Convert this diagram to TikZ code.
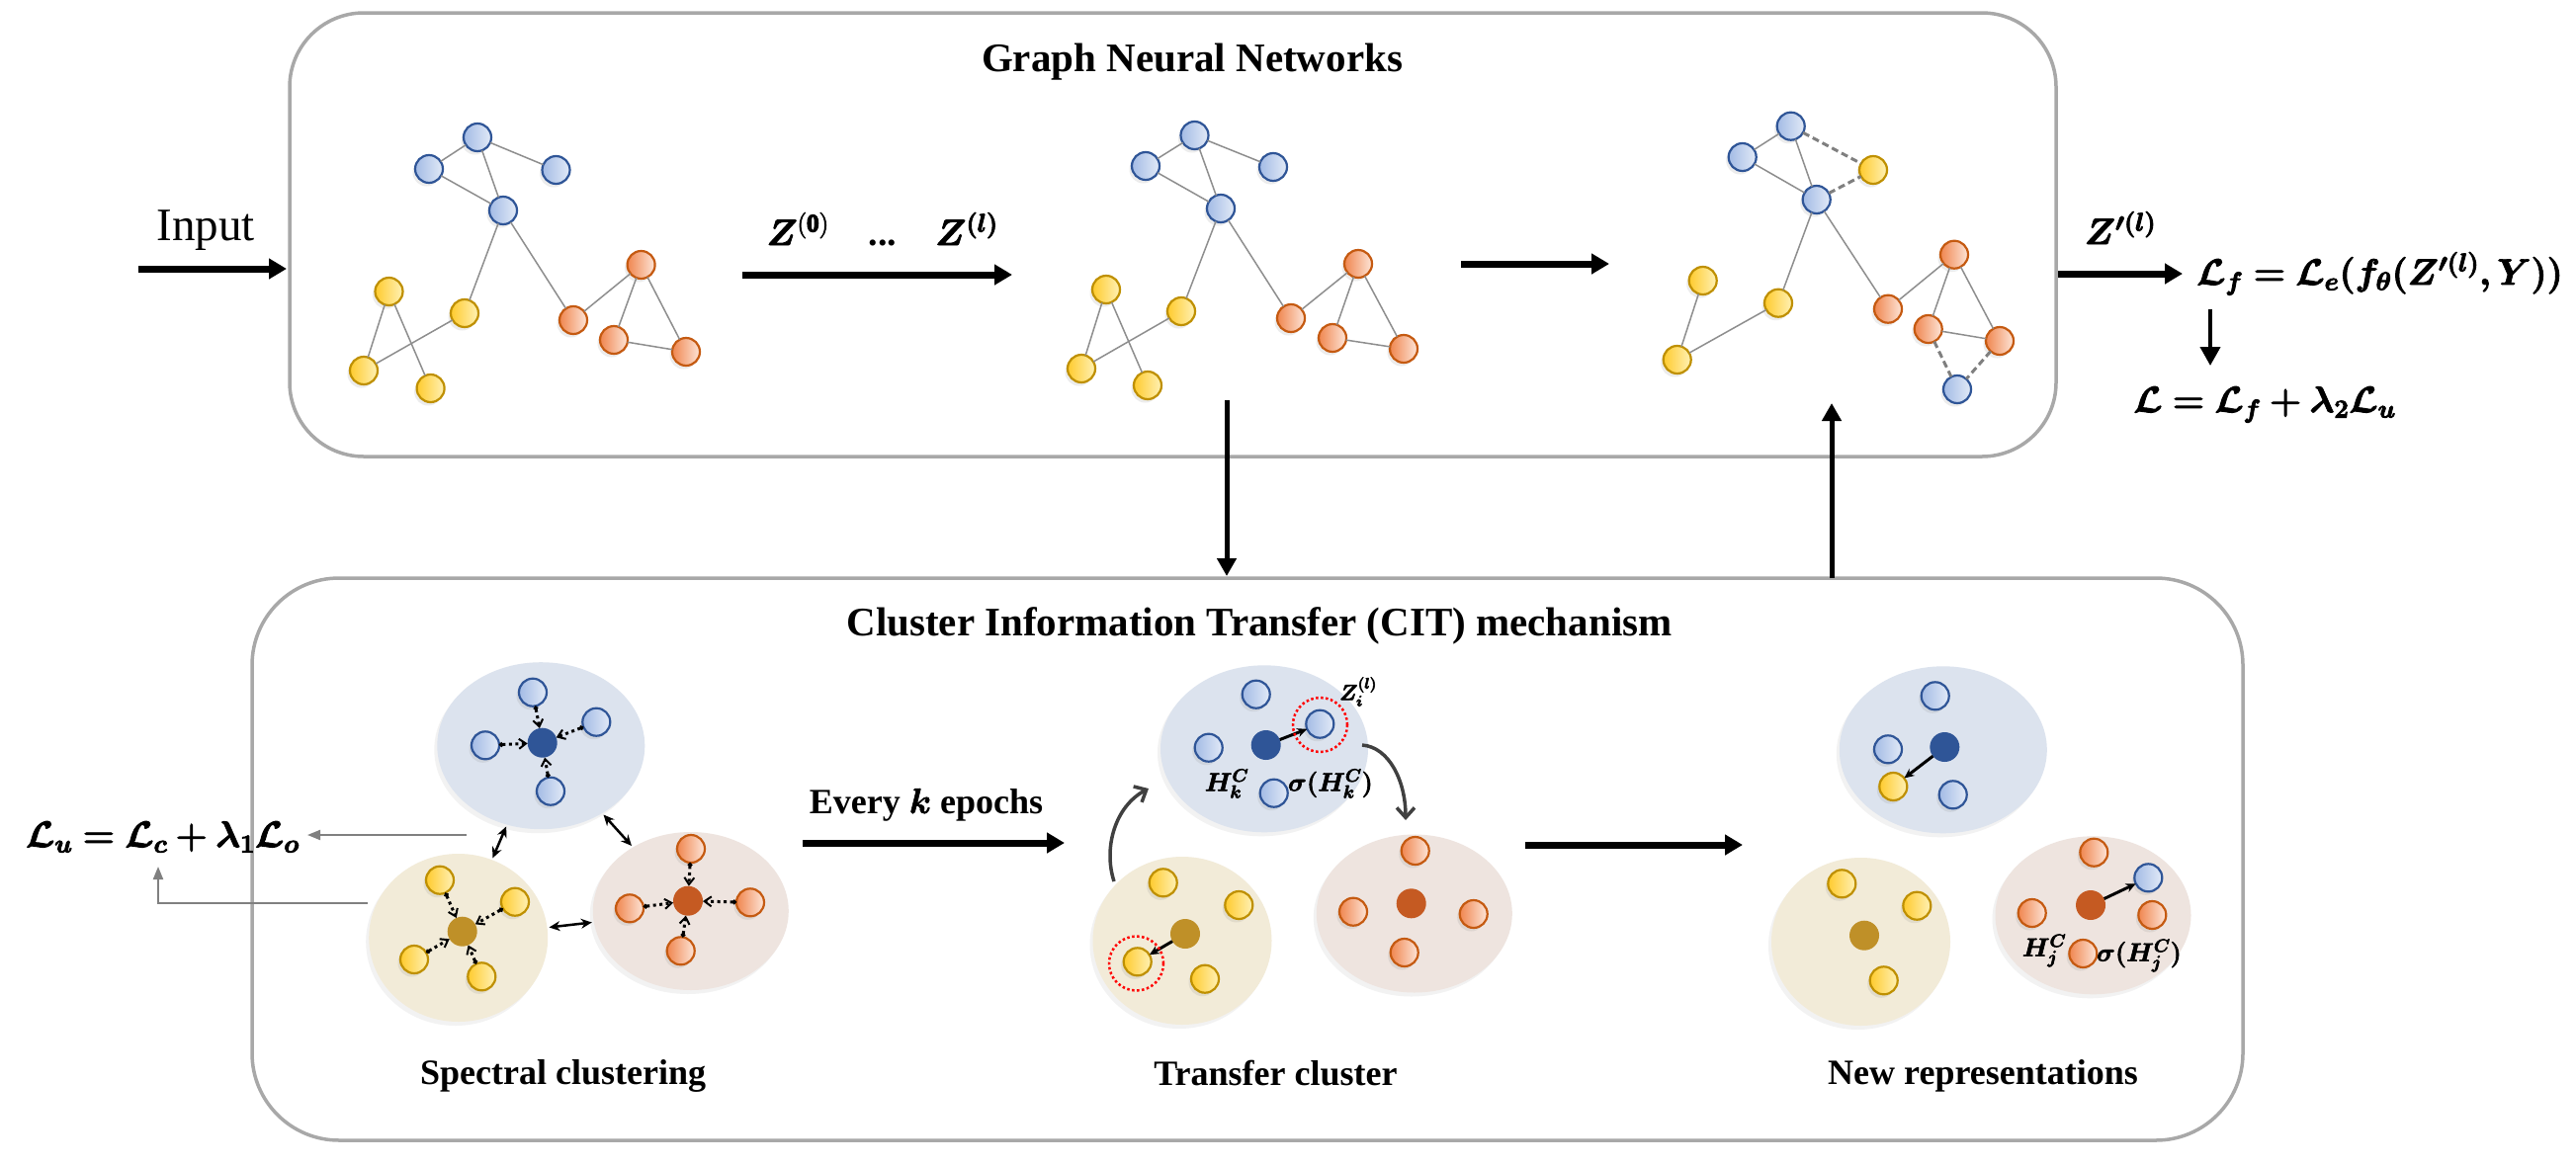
\RequirePackage{fix-cm}
\documentclass[tikz,border=0pt]{standalone}
\usepackage{amsmath}
\usepackage{bm}
\usepackage{fontspec}
\setmainfont{Liberation Serif}
\usetikzlibrary{arrows.meta,shadows,shapes.geometric}

\newcommand{\hv}[2][0.9]{\special{pdf:literal direct 2 Tr #1 w}#2\special{pdf:literal direct 0 Tr}}

\definecolor{boxgray}{HTML}{A8A8A8}
\definecolor{edgegray}{HTML}{8E8E8E}
\definecolor{dashgray}{HTML}{7F7F7F}
\definecolor{bluedk}{HTML}{2F5597}
\definecolor{bluemid}{HTML}{A3BBE5}
\definecolor{bluelt}{HTML}{E2EAF7}
\definecolor{yeldk}{HTML}{BF9000}
\definecolor{yelmid}{HTML}{FFCB2E}
\definecolor{yellt}{HTML}{FFF1B5}
\definecolor{ordk}{HTML}{C55A11}
\definecolor{ormid}{HTML}{F0864F}
\definecolor{orlt}{HTML}{FDE5D8}
\definecolor{cenblue}{HTML}{2F5597}
\definecolor{cenyel}{HTML}{BF9028}
\definecolor{cenor}{HTML}{C55A22}
\definecolor{clblue}{HTML}{DCE3EE}
\definecolor{clyel}{HTML}{F2EBD8}
\definecolor{clor}{HTML}{EEE4DF}
\definecolor{curvegray}{HTML}{404040}
\definecolor{lugray}{HTML}{808080}

\tikzset{
  gnode/.style={circle, minimum size=28pt, inner sep=0pt, outer sep=0pt, line width=2.2pt,
    drop shadow={shadow xshift=-2.5pt, shadow yshift=-3.5pt, opacity=0.15}},
  bnode/.style={gnode, draw=bluedk, left color=bluemid, right color=bluelt},
  ynode/.style={gnode, draw=yeldk, left color=yelmid, right color=yellt},
  onode/.style={gnode, draw=ordk, left color=ormid, right color=orlt},
  cent/.style={circle, minimum size=30pt, inner sep=0pt, outer sep=0pt},
  bcent/.style={cent, fill=cenblue},
  ycent/.style={cent, fill=cenyel},
  ocent/.style={cent, fill=cenor},
  cluster/.style={ellipse, inner sep=0pt, outer sep=0pt,
    drop shadow={shadow xshift=-3pt, shadow yshift=-4pt, opacity=0.10}},
  bclus/.style={cluster, fill=clblue, minimum width=210pt, minimum height=169pt},
  yclus/.style={cluster, fill=clyel, minimum width=181pt, minimum height=170pt},
  oclus/.style={cluster, fill=clor, minimum width=198pt, minimum height=160pt},
  gedge/.style={draw=edgegray, line width=1.5pt},
  dedge/.style={draw=dashgray, line width=3pt, dash pattern=on 7pt off 4pt},
  boxframe/.style={draw=boxgray, line width=3.5pt, rounded corners=#1, inner sep=0pt, outer sep=0pt},
  bigarr/.style={line width=7pt, -{Triangle[length=18pt,width=20pt]}},
  varr/.style={line width=5pt, -{Triangle[length=18pt,width=19pt]}},
  dotarr/.style={line width=3pt, dash pattern=on 3pt off 3.5pt,
    {Circle[length=4.5pt]}-{Straight Barb[length=7pt,width=10pt,line width=2pt]}},
  dblarr/.style={line width=2.5pt, {Stealth[length=11pt,width=10pt]}-{Stealth[length=11pt,width=10pt]},
    shorten <=2pt, shorten >=2pt},
  tarr/.style={line width=3pt, -{Stealth[length=10pt,width=9pt]}},
  curvarr/.style={draw=curvegray, line width=3.5pt, -{Straight Barb[length=10pt,width=18pt,line width=3.5pt]}},
  luarr/.style={draw=lugray, line width=2pt, -{Triangle[length=13pt,width=10pt]}},
  reddot/.style={circle, draw=red, line width=2.5pt, dash pattern=on 2.5pt off 2.5pt, minimum size=55pt, inner sep=0pt},
  ttl/.style={font=\fontsize{41}{48}\selectfont\bfseries, anchor=base, inner sep=0pt},
  lbl/.style={font=\fontsize{36}{42}\selectfont\bfseries, anchor=base, inner sep=0pt},
  mth/.style={font=\fontsize{37}{44}\selectfont, inner sep=0pt},
  smth/.style={font=\fontsize{26}{30}\selectfont, inner sep=0pt},
}

\begin{document}
\begin{tikzpicture}[x=1pt,y=-1pt]
\useasboundingbox[fill=white] (0,0) rectangle (2606,1178);

% ---------------- frames ----------------
\node[boxframe=75pt, minimum width=1787pt, minimum height=449pt] (gnn) at (1186.5,237.5) {};
\node[boxframe=88pt, minimum width=2014pt, minimum height=569pt] (cit) at (1262,869.5) {};

\node[ttl] (gnntitle) at (1206,72) {Graph Neural Networks};
\node[ttl] (cittitle) at (1274,643) {Cluster Information Transfer (CIT) mechanism};

% ---------------- input ----------------
\node[font=\fontsize{47}{54}\selectfont, anchor=base, inner sep=0pt] (input) at (208,243) {Input};
\coordinate (inS) at (140,272);
\coordinate (inE) at (290,272);
\draw[bigarr] (inS) -- (inE);

% ---------------- graph A ----------------
\node[bnode] (A-b1) at (483,139) {};
\node[bnode] (A-b2) at (434,171) {};
\node[bnode] (A-b3) at (562.5,172) {};
\node[bnode] (A-b4) at (509,213) {};
\node[ynode] (A-y1) at (393.5,295) {};
\node[ynode] (A-y2) at (470,317) {};
\node[ynode] (A-y3) at (368,375) {};
\node[ynode] (A-y4) at (435.6,393) {};
\node[onode] (A-o1) at (580,324) {};
\node[onode] (A-o2) at (648.6,268) {};
\node[onode] (A-o3) at (621,344) {};
\node[onode] (A-o4) at (694,356) {};
\foreach \a/\b in {b1/b2,b1/b3,b1/b4,b2/b4,b4/y2,b4/o1,y1/y3,y1/y4,y2/y3,o1/o2,o2/o3,o2/o4,o3/o4}
  \draw[gedge] (A-\a) -- (A-\b);

% ---------------- graph B ----------------
\node[bnode] (B-b1) at (1208.5,137) {};
\node[bnode] (B-b2) at (1159,168) {};
\node[bnode] (B-b3) at (1288,169) {};
\node[bnode] (B-b4) at (1235,211) {};
\node[ynode] (B-y1) at (1119,293) {};
\node[ynode] (B-y2) at (1195,315) {};
\node[ynode] (B-y3) at (1094,373) {};
\node[ynode] (B-y4) at (1161,390) {};
\node[onode] (B-o1) at (1306,322) {};
\node[onode] (B-o2) at (1374,267) {};
\node[onode] (B-o3) at (1348,342) {};
\node[onode] (B-o4) at (1420,353) {};
\foreach \a/\b in {b1/b2,b1/b3,b1/b4,b2/b4,b4/y2,b4/o1,y1/y3,y1/y4,y2/y3,o1/o2,o2/o3,o2/o4,o3/o4}
  \draw[gedge] (B-\a) -- (B-\b);

% ---------------- graph C ----------------
\node[bnode] (C-b1) at (1811.7,127.7) {};
\node[bnode] (C-b2) at (1762.7,159) {};
\node[ynode] (C-yt) at (1895,172) {};
\node[bnode] (C-b4) at (1837.7,202) {};
\node[ynode] (C-y1) at (1722.7,284) {};
\node[ynode] (C-y2) at (1799,306.7) {};
\node[ynode] (C-y3) at (1696.7,364) {};
\node[onode] (C-o1) at (1910,312.7) {};
\node[onode] (C-o2) at (1977,257.7) {};
\node[onode] (C-o3) at (1950.7,333) {};
\node[onode] (C-o4) at (2023,345) {};
\node[bnode] (C-bb) at (1980,394) {};
\foreach \a/\b in {b1/b2,b1/b4,b2/b4,b4/y2,b4/o1,y1/y3,y2/y3,o1/o2,o2/o3,o2/o4,o3/o4}
  \draw[gedge] (C-\a) -- (C-\b);
\foreach \a/\b in {b1/yt,b4/yt,o3/bb,o4/bb}
  \draw[dedge] (C-\a) -- (C-\b);

% ---------------- GNN arrows ----------------
\coordinate (zS) at (751,278);
\coordinate (zE) at (1024,278);
\draw[bigarr] (zS) -- (zE);
\node[mth, anchor=base] (z0) at (807,248) {\hv{$\bm{Z}^{\mathbf{(0)}}$}};
\node[font=\fontsize{38}{44}\selectfont\bfseries, anchor=base, inner sep=0pt] (zdots) at (893,248) {...};
\node[mth, anchor=base] (zl) at (978,248) {\hv{$\bm{Z^{(l)}}$}};

\coordinate (mS) at (1478,267);
\coordinate (mE) at (1628,267);
\draw[bigarr] (mS) -- (mE);

\coordinate (dS) at (1241,405);
\coordinate (dE) at (1241,583);
\draw[varr] (dS) -- (dE);

\coordinate (uS) at (1853,585);
\coordinate (uE) at (1853,408);
\draw[varr] (uS) -- (uE);

% ---------------- loss ----------------
\coordinate (lS) at (2082,277);
\coordinate (lE) at (2208,277);
\draw[bigarr] (lS) -- (lE);
\node[mth, anchor=base] (zp) at (2145,247) {\hv{$\bm{Z'^{(l)}}$}};
\node[mth, anchor=base west] (f1) at (2222,288) {\hv{$\bm{\mathcal{L}_f = \mathcal{L}_e(f_\theta(Z'^{(l)}, Y))}$}};
\coordinate (ldS) at (2236,313);
\coordinate (ldE) at (2236,370);
\draw[line width=4pt, -{Triangle[length=19pt,width=20pt]}] (ldS) -- (ldE);
\node[mth, anchor=base] (f2) at (2291,417) {\hv{$\bm{\mathcal{L} = \mathcal{L}_f + \lambda_2\mathcal{L}_u}$}};

% ---------------- spectral clustering ----------------
\node[bclus] (S-B) at (547.3,754.7) {};
\node[yclus] (S-Y) at (463.7,949) {};
\node[oclus] (S-O) at (698.8,922) {};

\node[bcent] (S-bc) at (548.7,751.7) {};
\node[bnode] (S-b1) at (539,700.7) {};
\node[bnode] (S-b2) at (603.3,730.7) {};
\node[bnode] (S-b3) at (491,754.3) {};
\node[bnode] (S-b4) at (557,800.7) {};
\node[ycent] (S-yc) at (467.7,942.7) {};
\node[ynode] (S-y1) at (445,890.7) {};
\node[ynode] (S-y2) at (521,912.7) {};
\node[ynode] (S-y3) at (419,971) {};
\node[ynode] (S-y4) at (487.3,988.3) {};
\node[ocent] (S-oc) at (696,911.7) {};
\node[onode] (S-o1) at (699,859) {};
\node[onode] (S-o2) at (759,913.3) {};
\node[onode] (S-o3) at (637,919.3) {};
\node[onode] (S-o4) at (688.7,962.3) {};
\foreach \c in {b,y,o}{
  \foreach \i in {1,2,3,4}
    \draw[dotarr] (S-\c\i) -- (S-\c c);
}
\draw[dblarr] (S-B) -- (S-Y);
\draw[dblarr] (S-B) -- (S-O);
\draw[dblarr] (S-Y) -- (S-O);

\node[lbl] (speclbl) at (569.6,1097) {Spectral clustering};

% L_u
\node[mth, anchor=base] (lu) at (164.5,857) {\hv{$\bm{\mathcal{L}_u = \mathcal{L}_c + \lambda_1\mathcal{L}_o}$}};
\coordinate (lu1s) at (472,845);
\coordinate (lu1e) at (311,845);
\draw[luarr] (lu1s) -- (lu1e);
\coordinate (lu2s) at (372,914);
\coordinate (lu2e) at (160,877);
\draw[luarr] (lu2s) -| (lu2e);

% every k epochs
\coordinate (eS) at (812,853);
\coordinate (eE) at (1077,853);
\draw[bigarr] (eS) -- (eE);
\node[lbl] (everyk) at (937,823) {Every \hv[0.6]{$\bm{k}$} epochs};

% ---------------- transfer cluster ----------------
\node[bclus] (T-B) at (1279,757.8) {};
\node[yclus] (T-Y) at (1196,952) {};
\node[oclus] (T-O) at (1430.8,924.5) {};

\node[bcent] (T-bc) at (1280.7,754) {};
\node[bnode] (T-b1) at (1270.7,702.7) {};
\node[bnode] (T-b2) at (1222.7,756.7) {};
\node[bnode] (T-b3) at (1335.3,732.7) {};
\node[bnode] (T-b4) at (1288.7,802.7) {};
\node[ycent] (T-yc) at (1199,945) {};
\node[ynode] (T-y1) at (1176.7,893.3) {};
\node[ynode] (T-y2) at (1253.3,916) {};
\node[ynode] (T-y3) at (1150.7,973.3) {};
\node[ynode] (T-y4) at (1219,990.7) {};
\node[ocent] (T-oc) at (1427.7,914.3) {};
\node[onode] (T-o1) at (1431.7,861) {};
\node[onode] (T-o2) at (1369,922.7) {};
\node[onode] (T-o3) at (1490.7,925) {};
\node[onode] (T-o4) at (1420.7,964) {};

\draw[tarr] (T-bc) -- (T-b3);
\draw[tarr] (T-yc) -- (T-y3);
\node[reddot] (T-r1) at (1335.5,733.5) {};
\node[reddot] (T-r2) at (1149.5,975) {};

\node[smth] (T-h) at (1241,793) {\hv[0.6]{$\bm{H_k^C}$}};
\node[smth] (T-s) at (1346,793) {\hv[0.6]{$\bm{\sigma(H_k^C)}$}};
\node[font=\fontsize{22}{26}\selectfont, inner sep=0pt] (T-z) at (1374,700) {\hv[0.5]{$\bm{Z_i^{(l)}}$}};

\coordinate (cv1s) at (1378,754);
\coordinate (cv1e) at (1422,830);
\draw[curvarr] (cv1s) .. controls (1405,756) and (1422,790) .. (cv1e);
\coordinate (cv2s) at (1127,892);
\coordinate (cv2e) at (1162,798);
\draw[curvarr] (cv2s) .. controls (1116,858) and (1128,816) .. (cv2e);

\node[lbl] (translbl) at (1290.5,1098) {Transfer cluster};

% arrow to new representations
\coordinate (nS) at (1543,855);
\coordinate (nE) at (1763,855);
\draw[bigarr] (nS) -- (nE);

% ---------------- new representations ----------------
\node[bclus] (N-B) at (1965.8,758.8) {};
\node[yclus] (N-Y) at (1882.5,953) {};
\node[oclus] (N-O) at (2117.5,926.3) {};

\node[bcent] (N-bc) at (1967.3,756) {};
\node[bnode] (N-b1) at (1957.7,704.3) {};
\node[bnode] (N-b2) at (1910,758.3) {};
\node[bnode] (N-b3) at (1975.7,804.3) {};
\node[ynode] (N-yx) at (1915.3,796) {};
\node[ycent] (N-yc) at (1886,946.7) {};
\node[ynode] (N-y1) at (1863.3,894.3) {};
\node[ynode] (N-y2) at (1939.3,916.7) {};
\node[ynode] (N-y3) at (1905.7,992.3) {};
\node[ocent] (N-oc) at (2115,916) {};
\node[onode] (N-o1) at (2118.3,862.7) {};
\node[onode] (N-o2) at (2055.7,924) {};
\node[onode] (N-o3) at (2177.3,926) {};
\node[onode] (N-o4) at (2107.3,965) {};
\node[bnode] (N-bx) at (2173.3,888.3) {};

\draw[tarr] (N-bc) -- (N-yx);
\draw[tarr] (N-oc) -- (N-bx);

\node[smth] (N-h) at (2068,962) {\hv[0.6]{$\bm{H_j^C}$}};
\node[smth] (N-s) at (2164,967) {\hv[0.6]{$\bm{\sigma(H_j^C)}$}};

\node[lbl] (newlbl) at (2006,1097) {New representations};
\end{tikzpicture}
\end{document}
